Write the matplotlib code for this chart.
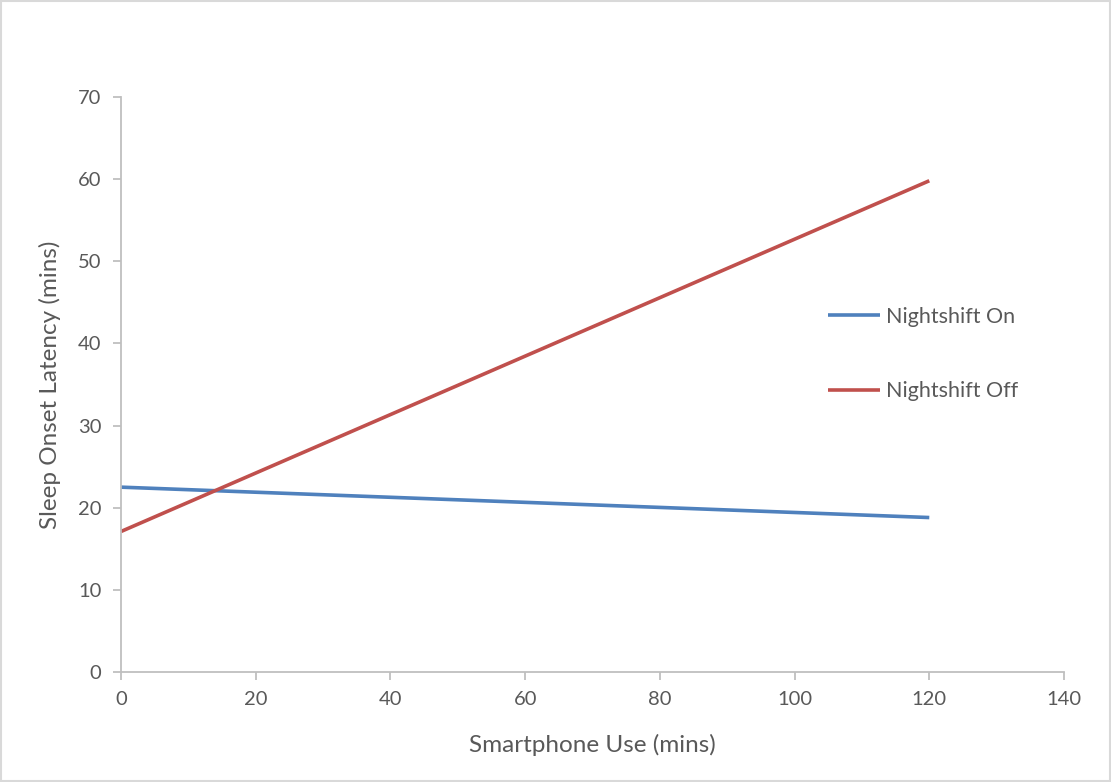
import matplotlib.pyplot as plt

# data (two straight trend lines)
use_mins = [0, 120]
nightshift_on = [22.5, 18.8]
nightshift_off = [17.1, 59.8]

x_ticks = [0, 20, 40, 60, 80, 100, 120, 140]
y_ticks = [0, 10, 20, 30, 40, 50, 60, 70]

plt.rcParams['font.family'] = ['Lato', 'DejaVu Sans']
text_col = '#595959'
axis_col = '#BFBFBF'

fig = plt.figure(figsize=(11.11, 7.82), dpi=100)
ax = fig.add_axes([0.1089, 0.1407, 0.8488, 0.7353])

ax.plot(use_mins, nightshift_on, color='#4F81BD', lw=2.6, label='Nightshift On', solid_capstyle='butt')
ax.plot(use_mins, nightshift_off, color='#C0504D', lw=2.6, label='Nightshift Off', solid_capstyle='butt')

ax.set_xlim(0, 140)
ax.set_ylim(0, 70)
ax.set_xticks(x_ticks)
ax.set_yticks(y_ticks)

for s in ['top', 'right']:
    ax.spines[s].set_visible(False)
for s in ['left', 'bottom']:
    ax.spines[s].set_color(axis_col)
    ax.spines[s].set_linewidth(1.3)
ax.tick_params(colors=axis_col, labelcolor=text_col, labelsize=14.5, length=6, width=1.3, direction='out')
ax.tick_params(axis='x', pad=8)
ax.tick_params(axis='y', pad=8)

ax.set_xlabel('Smartphone Use (mins)', fontsize=17.5, color=text_col, labelpad=18)
ax.set_ylabel('Sleep Onset Latency (mins)', fontsize=17.5, color=text_col, labelpad=12)

leg = ax.legend(loc='center left', bbox_to_anchor=(0.7453, 0.5473), bbox_transform=fig.transFigure,
                frameon=False, fontsize=15.5, borderpad=0, borderaxespad=0, labelspacing=2.55,
                handlelength=2.4, handletextpad=0.28)
for t in leg.get_texts():
    t.set_color(text_col)

# light grey border around the chart area
fig.patches.append(plt.Rectangle((0.001, 0.001), 0.998, 0.998, transform=fig.transFigure,
                                 fill=False, edgecolor='#D9D9D9', lw=1.5))

fig.savefig('out.png', dpi=100)
